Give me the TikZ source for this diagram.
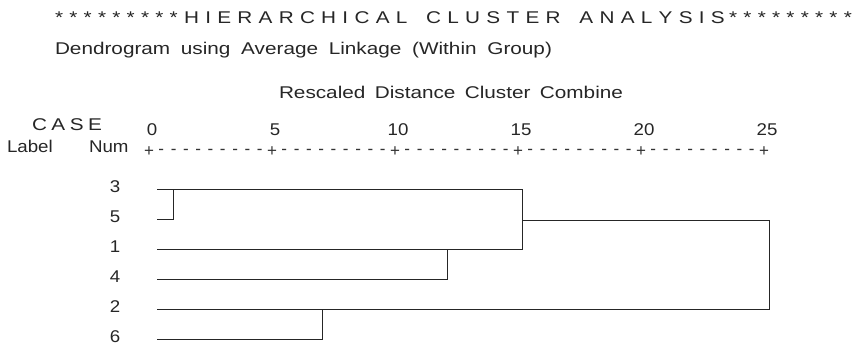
\documentclass[tikz,border=0pt]{standalone}
\usepackage{fontspec}
\newfontfamily\spsswide{Liberation Sans}[FakeStretch=1.22]
\newfontfamily\spssmid{Liberation Sans}[FakeStretch=1.1]
\newfontfamily\spssplain{Liberation Sans}
\newcommand\spreadto[2]{\hbox to #1{\spaceskip=0pt plus 1fil\relax #2}}
\begin{document}
\begin{tikzpicture}[x=1pt,y=-1pt,
  txt/.style={inner sep=0pt, outer sep=0pt, font=\spsswide\fontsize{17}{20}\selectfont, text=black!85},
  lbl/.style={inner sep=0pt, outer sep=0pt, font=\spssmid\fontsize{17}{20}\selectfont, text=black!85},
  axch/.style={inner sep=0pt, outer sep=0pt, font=\spssplain\fontsize{17}{20}\selectfont, text=black!80},
  link/.style={draw=black!85, line width=0.9pt}]
\useasboundingbox (0,0) rectangle (860,347);
% headings
\node[txt, anchor=base west] (title) at (55,24) {\spreadto{797pt}{* * * * * * * * * H I E R A R C H I C A L\hskip 0pt plus 3fil C L U S T E R\hskip 0pt plus 3fil A N A L Y S I S\hskip 0pt plus 0.7fil * * * * * * * * *}};
\node[txt, anchor=base west] (sub) at (55,55) {\spreadto{497pt}{Dendrogram using Average Linkage (Within Group)}};
\node[txt, anchor=base west] (resc) at (279,99) {\spreadto{344pt}{Rescaled Distance Cluster Combine}};
\node[txt, anchor=base west] (case) at (32,131) {\spreadto{70pt}{C A S E}};
\node[lbl, anchor=base west] (lab) at (7,153) {Label};
\node[lbl, anchor=base west] (num) at (89,153) {Num};
% axis
\foreach \v [count=\i from 0] in {0,5,10,15,20,25} {
  \node[lbl, anchor=base] (n\i) at (152+123*\i,136) {\v};
  \node[axch] (p\i) at (149+123*\i,152) {+};
}
\foreach \i in {0,...,4} {
  \foreach \j in {1,...,9} {
    \node[axch] (d\i-\j) at (149+123*\i+12.3*\j,152) {-};
  }
}
% case labels
\foreach \c [count=\k from 0] in {3,5,1,4,2,6} {
  \node[lbl, anchor=base] (c\c) at (115,193+30*\k) {\c};
  \coordinate (s\c) at (157,189+30*\k);
}
% join points
\coordinate (j35) at (173,189);
\coordinate (j14) at (447,249);
\coordinate (j26) at (322,309);
\coordinate (jA) at (522,189);
\coordinate (jAm) at (522,220);
\coordinate (jB) at (769,220);
% dendrogram
\draw[link] (s3) -- (jA) -- (jA |- s1) -- (s1);
\draw[link] (s5) -- (s5 -| j35) -- (j35);
\draw[link] (s4) -- (s4 -| j14) -- (j14);
\draw[link] (jAm) -- (jB) -- (jB |- s2) -- (s2);
\draw[link] (s6) -- (s6 -| j26) -- (j26);
\end{tikzpicture}
\end{document}
